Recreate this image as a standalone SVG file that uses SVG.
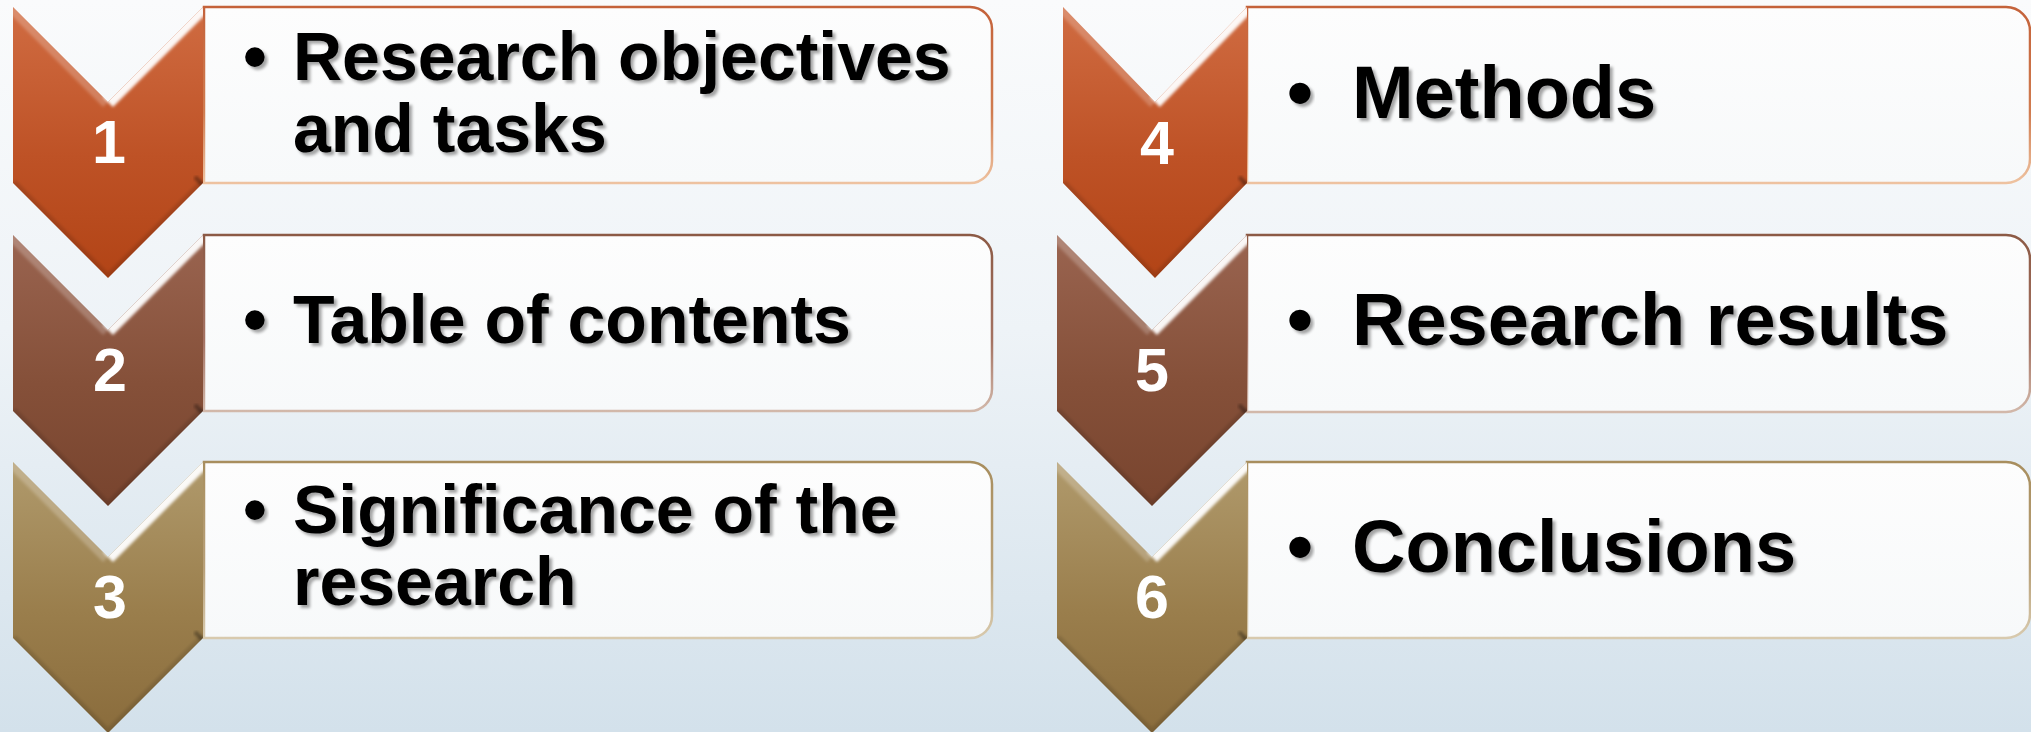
<svg xmlns="http://www.w3.org/2000/svg" xmlns:xlink="http://www.w3.org/1999/xlink" width="2031" height="732" viewBox="0 0 2031 732">
  <style>
    .lbl { font-family: "Liberation Sans", Arial, sans-serif; font-weight: bold; fill: #000; filter: url(#txtShadow); }
    .l { font-size: 68px; }
    .r { font-size: 74px; }
    .bul { text-anchor: middle; }
    .num { font-family: "Liberation Sans", Arial, sans-serif; font-weight: bold; font-size: 61px; fill: #fff; text-anchor: middle; }
    .box { fill: url(#boxFill); stroke-width: 2.5; }
  </style>
  <defs>
    <linearGradient id="bg" x1="0" y1="0" x2="0" y2="1">
      <stop offset="0" stop-color="#FAFBFC"/>
      <stop offset="0.45" stop-color="#EEF3F7"/>
      <stop offset="1" stop-color="#D3E1EB"/>
    </linearGradient>
    <linearGradient id="boxFill" x1="0" y1="0" x2="0" y2="1">
      <stop offset="0" stop-color="#FDFDFD"/>
      <stop offset="1" stop-color="#F7F9FA"/>
    </linearGradient>

    <!-- chevron fills -->
    <linearGradient id="gOrange" x1="0" y1="0" x2="0" y2="1">
      <stop offset="0" stop-color="#D06C42"/>
      <stop offset="0.55" stop-color="#BE5226"/>
      <stop offset="1" stop-color="#B24416"/>
    </linearGradient>
    <linearGradient id="gBrown" x1="0" y1="0" x2="0" y2="1">
      <stop offset="0" stop-color="#9A6450"/>
      <stop offset="0.55" stop-color="#855039"/>
      <stop offset="1" stop-color="#78442E"/>
    </linearGradient>
    <linearGradient id="gGold" x1="0" y1="0" x2="0" y2="1">
      <stop offset="0" stop-color="#B09A6C"/>
      <stop offset="0.55" stop-color="#9A7E4C"/>
      <stop offset="1" stop-color="#8A6C3C"/>
    </linearGradient>

    <!-- box outlines -->
    <linearGradient id="sOrange" x1="0" y1="0" x2="0" y2="1">
      <stop offset="0" stop-color="#C4623A"/>
      <stop offset="0.6" stop-color="#D07C50"/>
      <stop offset="1" stop-color="#EEC2A0"/>
    </linearGradient>
    <linearGradient id="sBrown" x1="0" y1="0" x2="0" y2="1">
      <stop offset="0" stop-color="#8C5A45"/>
      <stop offset="0.6" stop-color="#A47262"/>
      <stop offset="1" stop-color="#D2B8AA"/>
    </linearGradient>
    <linearGradient id="sGold" x1="0" y1="0" x2="0" y2="1">
      <stop offset="0" stop-color="#A88E5E"/>
      <stop offset="0.6" stop-color="#B8A078"/>
      <stop offset="1" stop-color="#D8CAAE"/>
    </linearGradient>

    <filter id="soft" x="-20%" y="-20%" width="140%" height="140%">
      <feGaussianBlur stdDeviation="1.6"/>
    </filter>
    <filter id="txtShadow" x="-5%" y="-20%" width="110%" height="150%">
      <feDropShadow dx="3" dy="3" stdDeviation="1.6" flood-color="#000" flood-opacity="0.35"/>
    </filter>

    <!-- chevron outline in local coordinates -->
    <polygon id="chev" points="0,0 95,95 190,0 190,176 95,271 0,176"/>
    <clipPath id="chevClip">
      <use xlink:href="#chev"/>
    </clipPath>

    <!-- bevel lighting laid over each chevron -->
    <g id="bevel" clip-path="url(#chevClip)">
      <polyline points="0,0 95,95" fill="none" stroke="#fff" stroke-opacity="0.22" stroke-width="14" filter="url(#soft)"/>
      <polyline points="95,95 190,0" fill="none" stroke="#fff" stroke-opacity="0.95" stroke-width="14" filter="url(#soft)"/>
      <polyline points="95,95 95,118" fill="none" stroke="#fff" stroke-opacity="0.3" stroke-width="3" filter="url(#soft)"/>
      <polyline points="190,2 190,172" fill="none" stroke="#FFE6D2" stroke-opacity="0.6" stroke-width="14" filter="url(#soft)"/>
      <polyline points="182,170 190,178" fill="none" stroke="#000" stroke-opacity="0.35" stroke-width="4" filter="url(#soft)"/>
      <polyline points="0,176 95,271 190,176" fill="none" stroke="#000" stroke-opacity="0.12" stroke-width="8" filter="url(#soft)"/>
    </g>
  </defs>

  <!-- backdrop -->
  <rect x="0" y="0" width="2031" height="732" fill="url(#bg)"/>

  <g id="connectors"/>

  <!-- left column -->
  <g id="step1">
    <path class="box" stroke="url(#sOrange)" d="M204,7 H970 A22,22 0 0 1 992,29 V161 A22,22 0 0 1 970,183 H204 Z"/>
    <g transform="translate(13,7)">
      <use xlink:href="#chev" fill="url(#gOrange)"/>
      <use xlink:href="#bevel"/>
    </g>
    <text class="num" x="109" y="163">1</text>
    <text class="lbl l bul" x="255" y="80">•</text>
    <text class="lbl l" x="293" y="80">Research objectives</text>
    <text class="lbl l" x="293" y="152">and tasks</text>
  </g>

  <g id="step2">
    <path class="box" stroke="url(#sBrown)" d="M204,235 H970 A22,22 0 0 1 992,257 V389 A22,22 0 0 1 970,411 H204 Z"/>
    <g transform="translate(13,235)">
      <use xlink:href="#chev" fill="url(#gBrown)"/>
      <use xlink:href="#bevel"/>
    </g>
    <text class="num" x="110" y="391">2</text>
    <text class="lbl l bul" x="255" y="343">•</text>
    <text class="lbl l" x="293" y="343">Table of contents</text>
  </g>

  <g id="step3">
    <path class="box" stroke="url(#sGold)" d="M204,462 H970 A22,22 0 0 1 992,484 V616 A22,22 0 0 1 970,638 H204 Z"/>
    <g transform="translate(13,462)">
      <use xlink:href="#chev" fill="url(#gGold)"/>
      <use xlink:href="#bevel"/>
    </g>
    <text class="num" x="110" y="618">3</text>
    <text class="lbl l bul" x="255" y="533">•</text>
    <text class="lbl l" x="293" y="533">Significance of the</text>
    <text class="lbl l" x="293" y="605">research</text>
  </g>

  <!-- right column -->
  <g id="step4">
    <path class="box" stroke="url(#sOrange)" d="M1247,7 H2006 A24,24 0 0 1 2030,31 V159 A24,24 0 0 1 2006,183 H1247 Z"/>
    <g transform="translate(1063,7) scale(0.9684,1)">
      <use xlink:href="#chev" fill="url(#gOrange)"/>
      <use xlink:href="#bevel"/>
    </g>
    <text class="num" x="1157" y="164">4</text>
    <text class="lbl r bul" x="1300" y="118">•</text>
    <text class="lbl r" x="1352" y="118">Methods</text>
  </g>

  <g id="step5">
    <path class="box" stroke="url(#sBrown)" d="M1247,235 H2006 A24,24 0 0 1 2030,259 V388 A24,24 0 0 1 2006,412 H1247 Z"/>
    <g transform="translate(1057,235)">
      <use xlink:href="#chev" fill="url(#gBrown)"/>
      <use xlink:href="#bevel"/>
    </g>
    <text class="num" x="1152" y="391">5</text>
    <text class="lbl r bul" x="1300" y="345">•</text>
    <text class="lbl r" x="1352" y="345">Research results</text>
  </g>

  <g id="step6">
    <path class="box" stroke="url(#sGold)" d="M1247,462 H2006 A24,24 0 0 1 2030,486 V614 A24,24 0 0 1 2006,638 H1247 Z"/>
    <g transform="translate(1057,462)">
      <use xlink:href="#chev" fill="url(#gGold)"/>
      <use xlink:href="#bevel"/>
    </g>
    <text class="num" x="1152" y="618">6</text>
    <text class="lbl r bul" x="1300" y="572">•</text>
    <text class="lbl r" x="1352" y="572">Conclusions</text>
  </g>
</svg>
